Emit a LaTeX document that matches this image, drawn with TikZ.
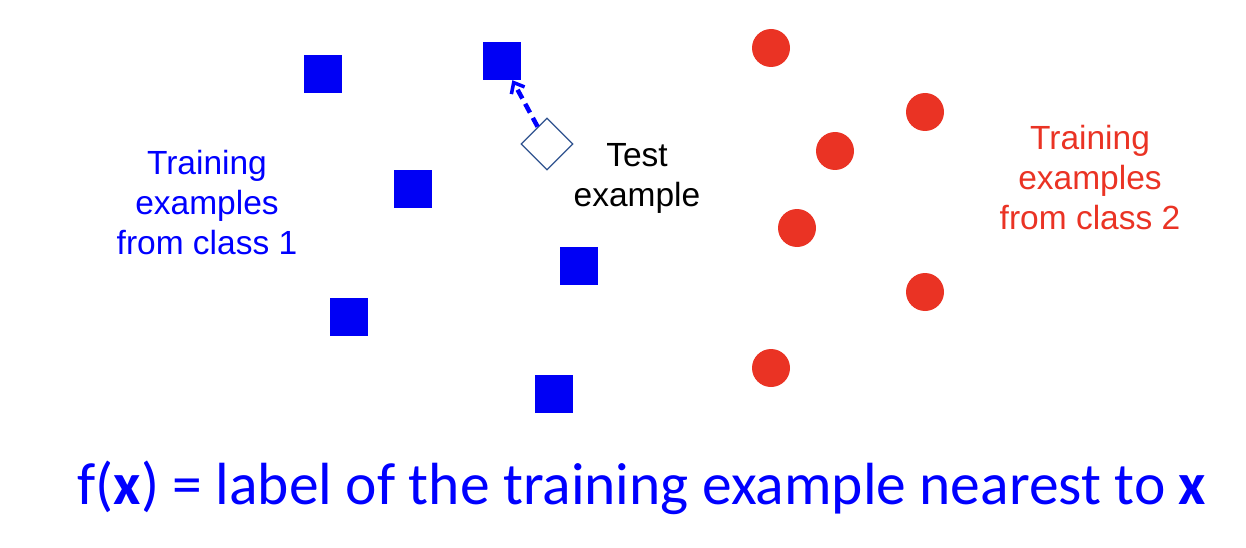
\documentclass[tikz,border=0pt]{standalone}
\usepackage{fontspec}
\setmainfont{Liberation Sans}
\newfontfamily\calib{Carlito}
\usetikzlibrary{arrows.meta}
\definecolor{sqblue}{RGB}{0,0,245}
\definecolor{txtblue}{RGB}{0,0,255}
\definecolor{dotred}{RGB}{234,51,36}
\definecolor{diablue}{RGB}{47,82,143}
\tikzset{
  sq/.style={rectangle, fill=sqblue, minimum size=38pt, inner sep=0pt},
  dot/.style={circle, fill=dotred, minimum size=38pt, inner sep=0pt},
  dia/.style={rectangle, draw=diablue, line width=1.3pt, fill=white, minimum size=36.5pt, inner sep=0pt, rotate=45},
  lbl/.style={align=center, font=\fontsize{33.5}{40}\selectfont, inner sep=0pt},
}
\begin{document}
\begin{tikzpicture}[x=1pt,y=-1pt]
\useasboundingbox (0,0) rectangle (1246,548);
% blue squares
\node[sq] (s1) at (323,74) {};
\node[sq] (s2) at (502,61) {};
\node[sq] (s3) at (413,189) {};
\node[sq] (s4) at (579,266) {};
\node[sq] (s5) at (349,317) {};
\node[sq] (s6) at (554,394) {};
% red circles
\node[dot] (c1) at (771,48) {};
\node[dot] (c2) at (925,112) {};
\node[dot] (c3) at (835,151) {};
\node[dot] (c4) at (797,228) {};
\node[dot] (c5) at (925,292) {};
\node[dot] (c6) at (771,368) {};
% test example
\node[dia] (t) at (547,144) {};
\draw[txtblue, line width=4.5pt, dash pattern=on 10pt off 6pt, -{Straight Barb[length=9pt,width=15pt,line width=3.5pt]}] (t) -- (s2);
% labels
\node[lbl, text=txtblue] (l1) at (207,203) {Training\\examples\\from class 1};
\node[lbl, text=black] (lt) at (637,178) {Test\\example};
\node[lbl, text=dotred] (l2) at (1090,178) {Training\\examples\\from class 2};
\node[inner sep=0pt, text=txtblue, font=\calib\fontsize{59.5}{64}\selectfont] (f) at (642,488) {f(\textbf{x}) = label of the training example nearest to \textbf{x}};
\end{tikzpicture}
\end{document}
